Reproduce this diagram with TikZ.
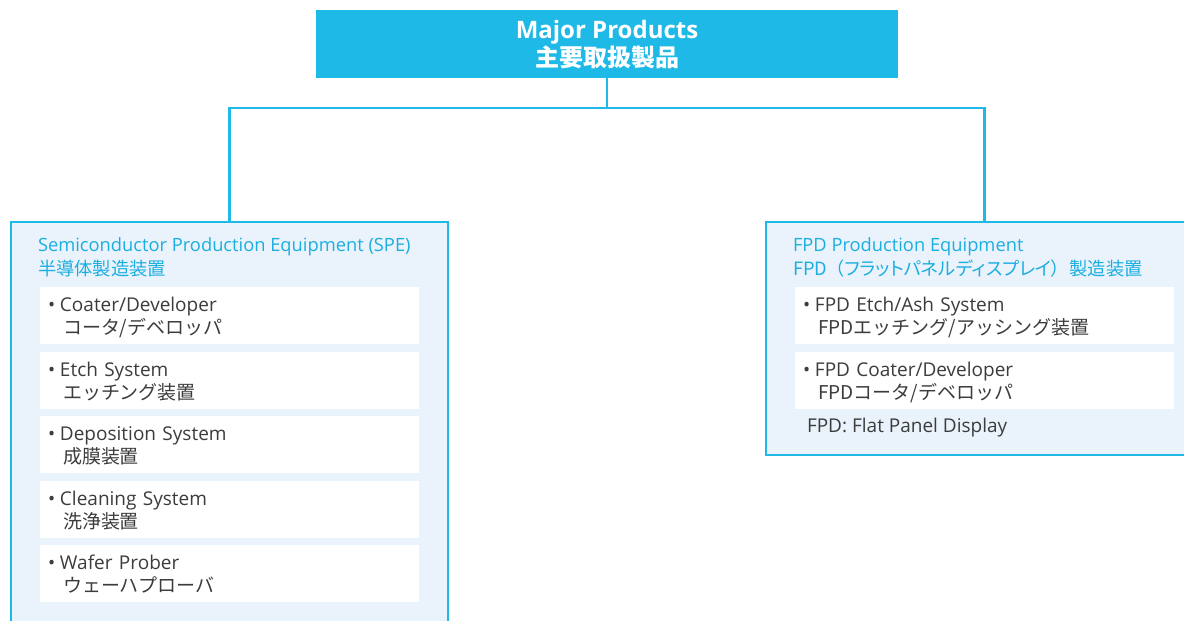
\documentclass[tikz,border=0pt]{standalone}
\usepackage{fontspec}
\setmainfont{Open Sans}
\newfontfamily\jp{Noto Sans CJK JP}
\newfontfamily\jpprop{Noto Sans CJK JP}[RawFeature=+palt]
\usepackage{tikz}
\usetikzlibrary{positioning}

\definecolor{brand}{HTML}{1FB9E8}
\definecolor{titlecyan}{HTML}{1BAEE0}
\definecolor{panelfill}{HTML}{EAF3FB}
\definecolor{textgray}{HTML}{3C3C3C}

% bullet line in English, indented line in Japanese below it
\newcommand{\equipitem}[2]{\makebox[12pt][l]{\textbullet}#1\\\hspace*{15pt}{\jp #2}}

\begin{document}
\begin{tikzpicture}[
    x=1pt, y=-1pt,
    every node/.style={inner sep=0pt, outer sep=0pt},
    topbox/.style={fill=brand, text=white, font=\fontsize{24}{28}\selectfont\bfseries, align=center,
      minimum width=582pt, minimum height=68pt, text height=56.5pt, text depth=11.5pt},
    panel/.style={draw=brand, line width=1.2pt, fill=panelfill, minimum width=437pt, anchor=north west},
    paneltitle/.style={text=titlecyan, font=\fontsize{18.3}{24}\selectfont, align=left, anchor=north west,
      text height=45.7pt, text depth=5pt},
    itembox/.style={fill=white, minimum width=379pt, minimum height=57pt, text width=363pt, inner xsep=8pt,
      align=left, anchor=north west, text=textgray, font=\fontsize{19}{23}\selectfont,
      text height=24.7pt, text depth=32.3pt},
    link/.style={draw=brand, line width=2.5pt}
]
  \useasboundingbox (0,0) rectangle (1184,621);

  \node[topbox] (major) at (607,44) {Major Products\\{\jp 主要取扱製品}};

  \node[panel, minimum height=420pt] (spe) at (11,222) {};
  \node[panel, minimum height=233pt] (fpd) at (766,222) {};

  \coordinate (fork) at (607,108);
  \draw[link] (major.south) -- (fork);
  \draw[link] (fork) -| (spe.north);
  \draw[link] (fork) -| (fpd.north);

  % semiconductor side
  \node[paneltitle] (spetitle) at (38,230) {Semiconductor Production Equipment (SPE)\\{\jp 半導体製造装置}};
  \node[itembox] (coater) at (40,287) {\equipitem{Coater/Developer}{コータ/デベロッパ}};
  \node[itembox] (etch) at (40,352) {\equipitem{Etch System}{エッチング装置}};
  \node[itembox] (depo) at (40,416) {\equipitem{Deposition System}{成膜装置}};
  \node[itembox] (clean) at (40,481) {\equipitem{Cleaning System}{洗浄装置}};
  \node[itembox] (prober) at (40,545) {\equipitem{Wafer Prober}{ウェーハプローバ}};

  % flat panel side
  \node[paneltitle] (fpdtitle) at (793,230) {FPD Production Equipment\\{\jpprop FPD\hspace{8pt}（フラットパネルディスプレイ）\hspace{9pt}製造装置}};
  \node[itembox] (fpdetch) at (795,287) {\equipitem{FPD Etch/Ash System}{FPDエッチング/アッシング装置}};
  \node[itembox] (fpdcoater) at (795,352) {\equipitem{FPD Coater/Developer}{FPDコータ/デベロッパ}};
  \node[anchor=base west, text=textgray, font=\fontsize{19}{23}\selectfont] (fpdnote) at (807,432) {FPD: Flat Panel Display};
\end{tikzpicture}
\end{document}
